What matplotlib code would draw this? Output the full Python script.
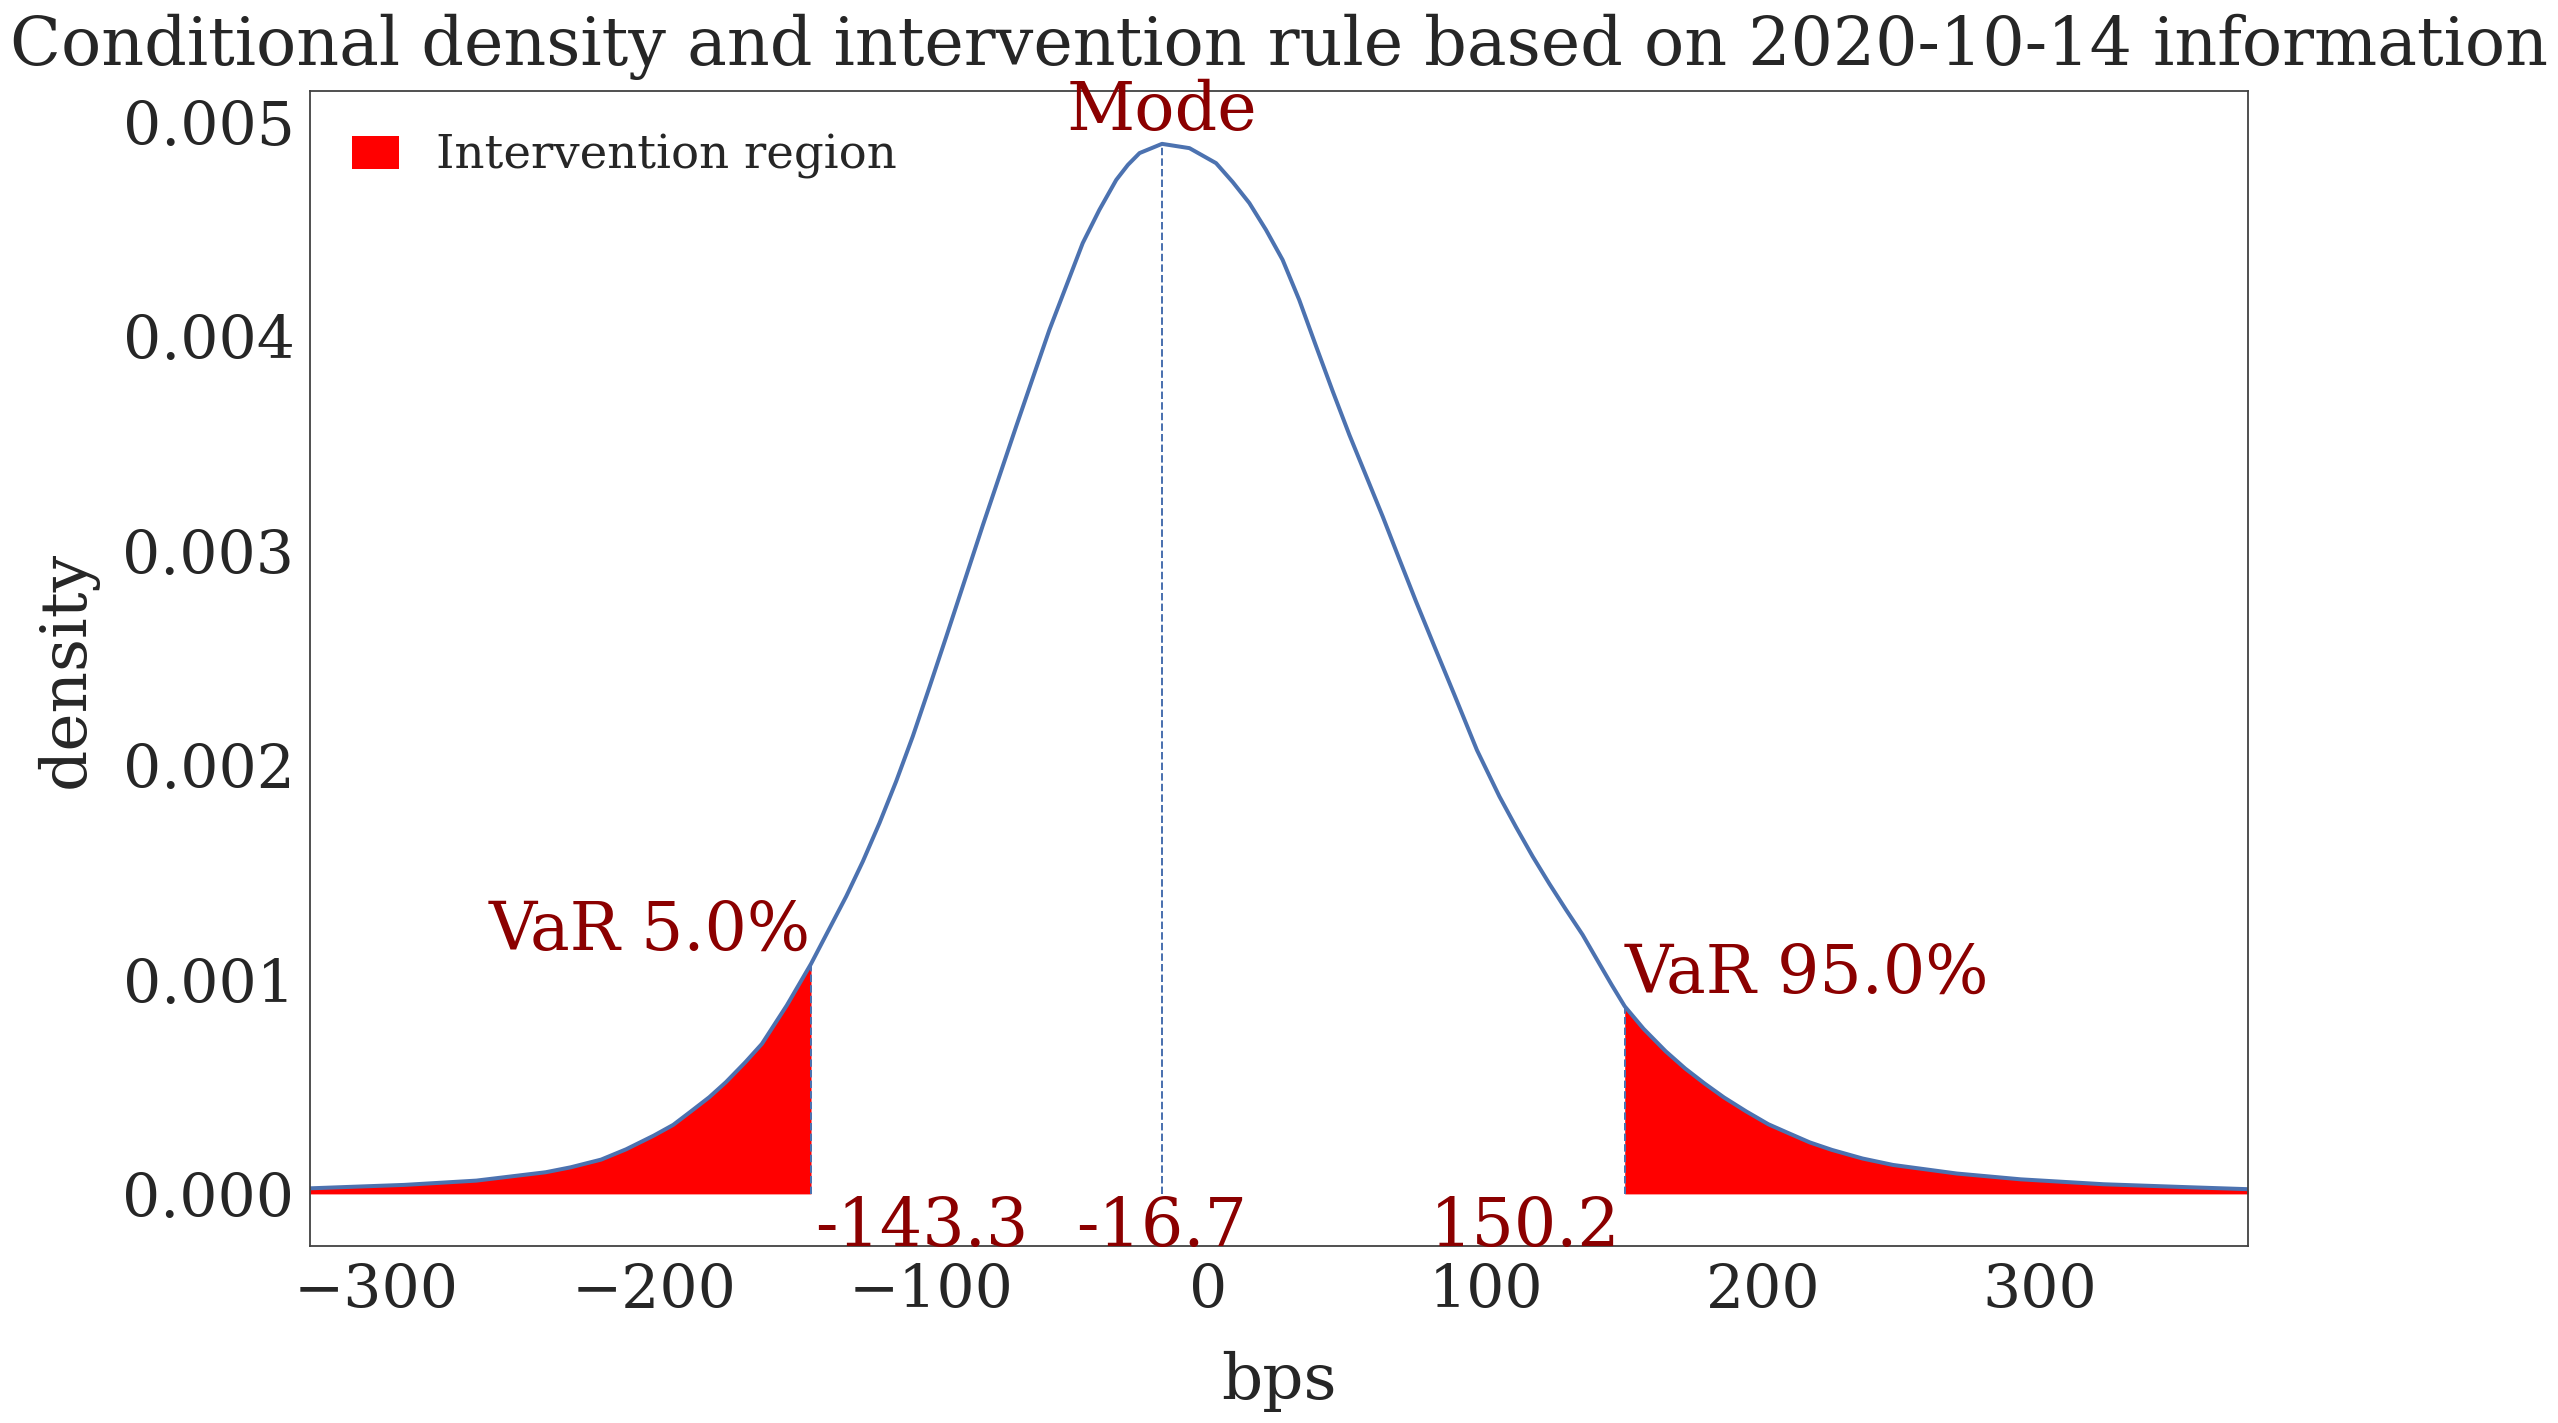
import numpy as np
import matplotlib
matplotlib.use("Agg")
import matplotlib.pyplot as plt
import seaborn as sns

sns.set_style("white")
plt.rcParams['font.family'] = ['DejaVu Serif']

# density (bps, density x 1e-3)
bps = np.array([-324, -290, -264, -239, -230, -219, -210, -200, -193, -187,
                -180, -174, -167, -161, -152, -143.3, -130.6, -124.6, -118.6,
                -112.6, -106.6, -100.5, -94.5, -81.3, -69.3, -63.3, -57.3, -51.3,
                -45.3, -39.3, -33.2, -29, -24.8, -16.7, -6.8, 2.8, 8.8, 14.8,
                20.8, 26.8, 32.8, 38.9, 44.9, 50.9, 56.9, 62.9, 68.9, 74.9,
                81.8, 88.7, 96.9, 105, 111, 117, 123, 129, 135, 141, 145.5,
                150.2, 157, 165, 172, 179, 186, 194, 202, 209, 217, 225, 236,
                247, 270, 293, 323, 354, 375])
dens = np.array([0.026, 0.042, 0.062, 0.101, 0.124, 0.16, 0.208, 0.272, 0.322, 0.381,
                 0.451, 0.521, 0.614, 0.70, 0.88, 1.073, 1.388, 1.551, 1.730,
                 1.924, 2.134, 2.367, 2.60, 3.12, 3.58, 3.806, 4.031, 4.233,
                 4.435, 4.59, 4.73, 4.80, 4.855, 4.898, 4.878, 4.808, 4.72, 4.622,
                 4.497, 4.357, 4.17, 3.953, 3.743, 3.54, 3.35, 3.16, 2.961, 2.764,
                 2.546, 2.33, 2.07, 1.854, 1.711, 1.574, 1.447, 1.326, 1.209, 1.075, 0.975,
                 0.875, 0.77, 0.665, 0.585, 0.515, 0.45, 0.385, 0.325, 0.285, 0.24, 0.205, 0.165,
                 0.135, 0.095, 0.068, 0.045, 0.031, 0.022]) / 1000

var_lo = -143.3
var_hi = 150.2
mode = -16.7
date_str = '2020-10-14'

blue = '#4C72B0'
dred = '#8B0000'

fig, ax = plt.subplots(figsize=(15.9875, 8.89375), dpi=160)
fig.subplots_adjust(left=0.1212, right=0.8788, top=0.9358, bottom=0.1241)

ax.plot(bps, dens, color=blue, lw=1.8)

lo = bps <= var_lo
hi = bps >= var_hi
ax.fill_between(bps[lo], 0, dens[lo], color='red', lw=0, label='Intervention region')
ax.fill_between(bps[hi], 0, dens[hi], color='red', lw=0)

d_lo = dens[bps == var_lo][0]
d_hi = dens[bps == var_hi][0]
d_mode = dens[bps == mode][0]
ax.vlines([var_lo, var_hi], 0, [d_lo, d_hi], color=blue, linestyles='--', lw=0.9)
ax.vlines(mode, 0, d_mode, color=blue, linestyles='--', lw=0.9)

ax.set_xlim(bps[0], bps[-1])
ylo = -0.05 * d_mode
ax.set_ylim(ylo, d_mode * 1.05)

ax.text(var_lo, d_lo, 'VaR 5.0%', color=dred, fontsize=30, ha='right', va='bottom')
ax.text(var_hi, d_hi, 'VaR 95.0%', color=dred, fontsize=30, ha='left', va='bottom')
ax.text(mode, d_mode, 'Mode', color=dred, fontsize=30, ha='center', va='bottom')

ax.annotate(f'{var_lo:.1f}', (var_lo, ylo), xytext=(2, 0), textcoords='offset points',
            color=dred, fontsize=30, ha='left', va='baseline')
ax.annotate(f'{mode:.1f}', (mode, ylo), color=dred, fontsize=30, ha='center', va='baseline')
ax.annotate(f'{var_hi:.1f}', (var_hi, ylo), xytext=(-2, 0), textcoords='offset points',
            color=dred, fontsize=30, ha='right', va='baseline')

ax.set_xlabel('bps', fontsize=29, labelpad=14)
ax.set_ylabel('density', fontsize=29, labelpad=11)
ax.set_title(f'Conditional density and intervention rule based on {date_str} information',
             fontsize=30, pad=12)
ax.tick_params(labelsize=27)
for s in ax.spines.values():
    s.set_color('.25')
ax.legend(loc='upper left', fontsize=21, frameon=False,
          handlelength=1.0, handletextpad=0.8)

fig.savefig('out.png', dpi=160)
